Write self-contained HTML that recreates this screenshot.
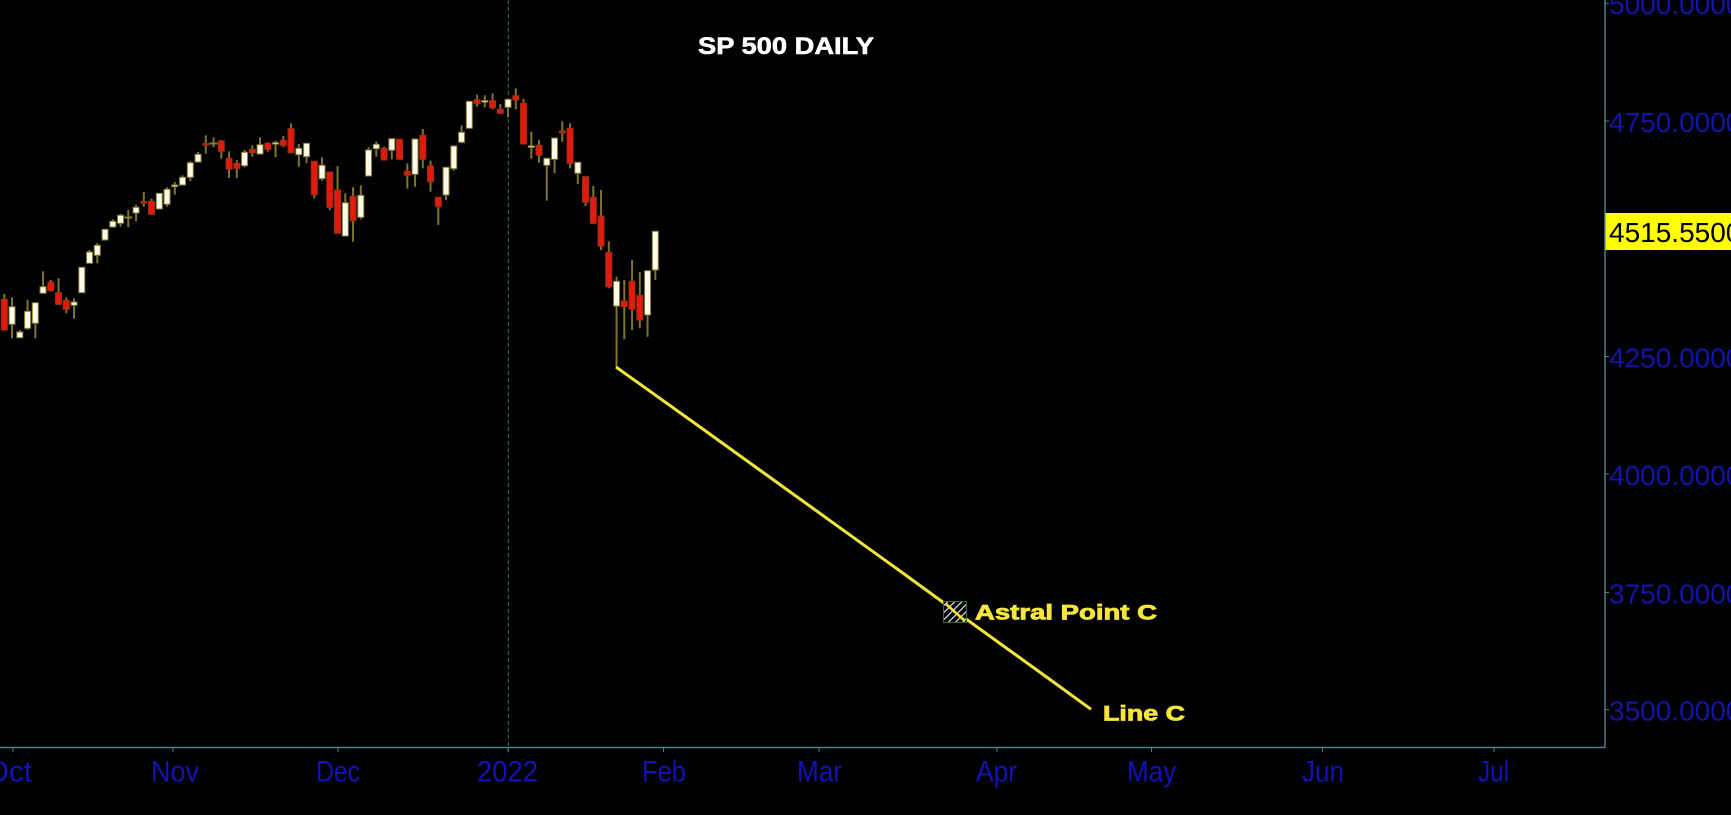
<!DOCTYPE html>
<html><head><meta charset="utf-8"><style>
html,body{margin:0;padding:0;background:#000;}
svg{display:block;}
</style></head><body>
<svg width="1731" height="815" viewBox="0 0 1731 815" xmlns="http://www.w3.org/2000/svg">
<defs>
<pattern id="hat" width="5" height="5" patternUnits="userSpaceOnUse" patternTransform="rotate(45)">
<rect width="5" height="5" fill="#000"/><rect x="0" y="0" width="1.2" height="5" fill="#e8e8e8"/>
</pattern>
</defs>
<rect width="1731" height="815" fill="#000"/>
<line x1="508.3" y1="0" x2="508.3" y2="752" stroke="#3d7272" stroke-width="1" stroke-dasharray="4,3"/>
<line x1="1605" y1="0" x2="1605" y2="747.5" stroke="#4a7f86" stroke-width="1.5"/>
<line x1="0" y1="747.5" x2="1605" y2="747.5" stroke="#4a7f86" stroke-width="1.5"/>
<g stroke="#4a7f86" stroke-width="1">
<line x1="1605" y1="3.4" x2="1609" y2="3.4"/><line x1="1605" y1="121" x2="1609" y2="121"/>
<line x1="1605" y1="356.5" x2="1609" y2="356.5"/><line x1="1605" y1="474" x2="1609" y2="474"/>
<line x1="1605" y1="592.5" x2="1609" y2="592.5"/><line x1="1605" y1="709.5" x2="1609" y2="709.5"/>
<line x1="13" y1="748" x2="13" y2="752"/><line x1="173" y1="748" x2="173" y2="752"/>
<line x1="338" y1="748" x2="338" y2="752"/><line x1="508" y1="748" x2="508" y2="752"/>
<line x1="663.5" y1="748" x2="663.5" y2="752"/><line x1="819" y1="748" x2="819" y2="752"/>
<line x1="997" y1="748" x2="997" y2="752"/><line x1="1151.5" y1="748" x2="1151.5" y2="752"/>
<line x1="1322.5" y1="748" x2="1322.5" y2="752"/><line x1="1494" y1="748" x2="1494" y2="752"/>
</g>
<g font-family="Liberation Sans, sans-serif" font-size="28" fill="#1414a8">
<text x="1609" y="14">5000.0000</text>
<text x="1609" y="132">4750.0000</text>
<text x="1609" y="367.5">4250.0000</text>
<text x="1609" y="485">4000.0000</text>
<text x="1609" y="603.5">3750.0000</text>
<text x="1609" y="720.5">3500.0000</text>
</g>
<rect x="1605.5" y="213" width="126" height="37" fill="#ffff00"/>
<text x="1609" y="242" font-family="Liberation Sans, sans-serif" font-size="28" fill="#000">4515.5500</text>
<g font-family="Liberation Sans, sans-serif" font-size="30" fill="#1212b8">
<text x="-14" y="781.6" textLength="46" lengthAdjust="spacingAndGlyphs">Oct</text>
<text x="151" y="781.6" textLength="48" lengthAdjust="spacingAndGlyphs">Nov</text>
<text x="316" y="781.6" textLength="44" lengthAdjust="spacingAndGlyphs">Dec</text>
<text x="477" y="781.6" textLength="61" lengthAdjust="spacingAndGlyphs">2022</text>
<text x="642" y="781.6" textLength="44" lengthAdjust="spacingAndGlyphs">Feb</text>
<text x="797" y="781.6" textLength="45" lengthAdjust="spacingAndGlyphs">Mar</text>
<text x="976" y="781.6" textLength="41" lengthAdjust="spacingAndGlyphs">Apr</text>
<text x="1127" y="781.6" textLength="49" lengthAdjust="spacingAndGlyphs">May</text>
<text x="1302" y="781.6" textLength="42" lengthAdjust="spacingAndGlyphs">Jun</text>
<text x="1478" y="781.6" textLength="31" lengthAdjust="spacingAndGlyphs">Jul</text>
</g>
<text x="698" y="54" font-family="Liberation Sans, sans-serif" font-weight="bold" font-size="24" fill="#ffffff" stroke="#ffffff" stroke-width="0.6" textLength="176" lengthAdjust="spacingAndGlyphs">SP 500 DAILY</text>
<g fill="#7d7430">
<rect x="3.3" y="294" width="2" height="36.7"/>
<rect x="11.05" y="297.3" width="2" height="41"/>
<rect x="18.8" y="330" width="2" height="8.3"/>
<rect x="26.55" y="300" width="2" height="30"/>
<rect x="34.3" y="302.7" width="2" height="35.6"/>
<rect x="42.05" y="271.3" width="2" height="22"/>
<rect x="49.8" y="280" width="2" height="11.7"/>
<rect x="57.55" y="278" width="2" height="27"/>
<rect x="65.3" y="297.3" width="2" height="16"/>
<rect x="73.05" y="298.3" width="2" height="20.4"/>
<rect x="80.8" y="267.3" width="2" height="25.4"/>
<rect x="88.55" y="250" width="2" height="13.3"/>
<rect x="96.3" y="243.3" width="2" height="20"/>
<rect x="104.05" y="229.3" width="2" height="10.7"/>
<rect x="111.8" y="219.3" width="2" height="7.7"/>
<rect x="119.55" y="214" width="2" height="12.7"/>
<rect x="127.3" y="210" width="2" height="17.3"/>
<rect x="135.05" y="204.7" width="2" height="16.6"/>
<rect x="142.8" y="192" width="2" height="14.7"/>
<rect x="150.55" y="198.7" width="2" height="15.6"/>
<rect x="158.3" y="193.3" width="2" height="15.7"/>
<rect x="166.05" y="187.3" width="2" height="19.4"/>
<rect x="173.8" y="182" width="2" height="12.7"/>
<rect x="181.55" y="175.3" width="2" height="9.7"/>
<rect x="189.3" y="161.3" width="2" height="20"/>
<rect x="197.05" y="152" width="2" height="10"/>
<rect x="204.8" y="135.3" width="2" height="18.4"/>
<rect x="212.55" y="137.3" width="2" height="10"/>
<rect x="220.3" y="140" width="2" height="18.7"/>
<rect x="228.05" y="151.3" width="2" height="26.7"/>
<rect x="235.8" y="160" width="2" height="18"/>
<rect x="243.55" y="150" width="2" height="17.3"/>
<rect x="251.3" y="145.3" width="2" height="11.4"/>
<rect x="259.05" y="137.3" width="2" height="16.7"/>
<rect x="266.8" y="142.3" width="2" height="9.4"/>
<rect x="274.55" y="140.7" width="2" height="16.6"/>
<rect x="282.3" y="136" width="2" height="11.3"/>
<rect x="290.05" y="123.3" width="2" height="30"/>
<rect x="297.8" y="144" width="2" height="22.7"/>
<rect x="305.55" y="143.3" width="2" height="20"/>
<rect x="313.3" y="161.3" width="2" height="37"/>
<rect x="321.05" y="157.3" width="2" height="23.4"/>
<rect x="328.8" y="172" width="2" height="38"/>
<rect x="336.55" y="166" width="2" height="67.3"/>
<rect x="344.3" y="193.3" width="2" height="43.4"/>
<rect x="352.05" y="187.3" width="2" height="54.4"/>
<rect x="359.8" y="185.3" width="2" height="34"/>
<rect x="367.55" y="147.3" width="2" height="28.7"/>
<rect x="375.3" y="141.7" width="2" height="15"/>
<rect x="383.05" y="146.7" width="2" height="13.3"/>
<rect x="390.8" y="138.7" width="2" height="20.6"/>
<rect x="398.55" y="139.3" width="2" height="20"/>
<rect x="406.3" y="163.3" width="2" height="25.4"/>
<rect x="414.05" y="139" width="2" height="47.7"/>
<rect x="421.8" y="129" width="2" height="39.3"/>
<rect x="429.55" y="160.7" width="2" height="31"/>
<rect x="437.3" y="197.3" width="2" height="27.7"/>
<rect x="445.05" y="167.3" width="2" height="32.7"/>
<rect x="452.8" y="145.3" width="2" height="25.4"/>
<rect x="460.55" y="125.3" width="2" height="18"/>
<rect x="468.3" y="101.3" width="2" height="27"/>
<rect x="476.05" y="94.7" width="2" height="12"/>
<rect x="483.8" y="95.3" width="2" height="12"/>
<rect x="491.55" y="93.3" width="2" height="16"/>
<rect x="499.3" y="104" width="2" height="9.3"/>
<rect x="507.05" y="99.3" width="2" height="18"/>
<rect x="514.8" y="88.3" width="2" height="21"/>
<rect x="522.55" y="98.7" width="2" height="45.3"/>
<rect x="530.3" y="131.7" width="2" height="27"/>
<rect x="538.05" y="140" width="2" height="22.7"/>
<rect x="545.8" y="158.3" width="2" height="42.4"/>
<rect x="553.55" y="138" width="2" height="35.3"/>
<rect x="561.3" y="121.3" width="2" height="20.4"/>
<rect x="569.05" y="123.3" width="2" height="45"/>
<rect x="576.8" y="162.3" width="2" height="21.7"/>
<rect x="584.55" y="176.7" width="2" height="29.3"/>
<rect x="592.3" y="186" width="2" height="38"/>
<rect x="600.05" y="190" width="2" height="60"/>
<rect x="607.8" y="241.3" width="2" height="47"/>
<rect x="615.55" y="276.7" width="2" height="90"/>
<rect x="623.3" y="280" width="2" height="59.3"/>
<rect x="631.05" y="260" width="2" height="70"/>
<rect x="638.8" y="272" width="2" height="56.3"/>
<rect x="646.55" y="270.7" width="2" height="66"/>
<rect x="654.3" y="231.3" width="2" height="48.7"/>
</g>
<g fill="#fffbe8" stroke="#857a2e" stroke-width="1">
<rect x="9.05" y="306.7" width="6" height="17.6"/>
<rect x="16.8" y="332" width="6" height="5.7"/>
<rect x="24.55" y="311.3" width="6" height="17"/>
<rect x="32.3" y="302.7" width="6" height="20.6"/>
<rect x="40.05" y="286.7" width="6" height="6.6"/>
<rect x="71.05" y="302" width="6" height="3.3"/>
<rect x="78.8" y="267.3" width="6" height="25.4"/>
<rect x="86.55" y="252" width="6" height="11.3"/>
<rect x="94.3" y="245.3" width="6" height="10"/>
<rect x="102.05" y="229.3" width="6" height="10.7"/>
<rect x="109.8" y="221.3" width="6" height="5.7"/>
<rect x="117.55" y="215.3" width="6" height="8"/>
<rect x="133.05" y="207.3" width="6" height="5.7"/>
<rect x="156.3" y="193.3" width="6" height="15.7"/>
<rect x="164.05" y="189.3" width="6" height="15"/>
<rect x="171.8" y="185" width="6" height="1.7"/>
<rect x="179.55" y="177.3" width="6" height="7.7"/>
<rect x="187.3" y="162.7" width="6" height="14.6"/>
<rect x="195.05" y="154.3" width="6" height="7.7"/>
<rect x="241.55" y="152.3" width="6" height="13.4"/>
<rect x="257.05" y="144.7" width="6" height="9.3"/>
<rect x="272.55" y="142.5" width="6" height="1.6"/>
<rect x="295.8" y="148.3" width="6" height="6.4"/>
<rect x="303.55" y="143.3" width="6" height="13.4"/>
<rect x="319.05" y="165.3" width="6" height="13.4"/>
<rect x="342.3" y="202.7" width="6" height="33.3"/>
<rect x="357.8" y="195.3" width="6" height="22"/>
<rect x="365.55" y="150" width="6" height="26"/>
<rect x="373.3" y="144.3" width="6" height="4.4"/>
<rect x="388.8" y="138.7" width="6" height="11.6"/>
<rect x="412.05" y="139" width="6" height="35.3"/>
<rect x="443.05" y="167.3" width="6" height="27.7"/>
<rect x="450.8" y="146" width="6" height="22.7"/>
<rect x="458.55" y="132.3" width="6" height="10"/>
<rect x="466.3" y="101.3" width="6" height="27"/>
<rect x="481.8" y="100.5" width="6" height="1.6"/>
<rect x="505.05" y="99.3" width="6" height="8"/>
<rect x="528.3" y="145.9" width="6" height="1.6"/>
<rect x="543.8" y="158.3" width="6" height="7"/>
<rect x="551.55" y="138" width="6" height="21.3"/>
<rect x="574.8" y="162.3" width="6" height="11"/>
<rect x="613.55" y="281.3" width="6" height="24.7"/>
<rect x="644.55" y="270.7" width="6" height="44.3"/>
<rect x="652.3" y="231.3" width="6" height="38.7"/>
</g>
<g fill="#e3190e" stroke="#9a3010" stroke-width="1">
<rect x="1.3" y="299.3" width="6" height="30.7"/>
<rect x="47.8" y="282" width="6" height="8.7"/>
<rect x="55.55" y="292.7" width="6" height="11.6"/>
<rect x="63.3" y="300.3" width="6" height="9"/>
<rect x="140.8" y="201.5" width="6" height="1.6"/>
<rect x="148.55" y="201.3" width="6" height="13"/>
<rect x="202.8" y="143.5" width="6" height="1.6"/>
<rect x="218.3" y="141" width="6" height="10.3"/>
<rect x="226.05" y="158.3" width="6" height="11"/>
<rect x="233.8" y="163.3" width="6" height="5"/>
<rect x="249.3" y="149.3" width="6" height="3.4"/>
<rect x="264.8" y="143.3" width="6" height="6"/>
<rect x="280.3" y="140.3" width="6" height="5"/>
<rect x="288.05" y="128.7" width="6" height="24"/>
<rect x="311.3" y="161.3" width="6" height="33.4"/>
<rect x="326.8" y="172" width="6" height="35.3"/>
<rect x="334.55" y="190" width="6" height="43.3"/>
<rect x="350.05" y="196.3" width="6" height="24.4"/>
<rect x="381.05" y="148.3" width="6" height="11.7"/>
<rect x="396.55" y="139.3" width="6" height="20"/>
<rect x="404.3" y="171.3" width="6" height="4"/>
<rect x="419.8" y="135.3" width="6" height="24"/>
<rect x="427.55" y="166" width="6" height="15.7"/>
<rect x="435.3" y="197.3" width="6" height="9.4"/>
<rect x="474.05" y="99.7" width="6" height="4"/>
<rect x="489.55" y="100.7" width="6" height="7"/>
<rect x="497.3" y="109.3" width="6" height="4"/>
<rect x="512.8" y="95.7" width="6" height="4.3"/>
<rect x="520.55" y="103.3" width="6" height="40.7"/>
<rect x="536.05" y="145.3" width="6" height="10"/>
<rect x="559.3" y="131" width="6" height="1.7"/>
<rect x="567.05" y="128.3" width="6" height="35"/>
<rect x="582.55" y="176.7" width="6" height="25.6"/>
<rect x="590.3" y="197.3" width="6" height="26"/>
<rect x="598.05" y="216" width="6" height="30"/>
<rect x="605.8" y="252.3" width="6" height="34.4"/>
<rect x="621.3" y="301" width="6" height="5.7"/>
<rect x="629.05" y="281.3" width="6" height="28"/>
<rect x="636.8" y="295.3" width="6" height="24.7"/>
</g>
<g fill="#8a7d30">
<rect x="124.3" y="216.5" width="8" height="2"/>
<rect x="209.55" y="142.5" width="8" height="2"/>
</g>
<polyline points="616,367 700,427 800,499 900,571 955,611 1000,643.5 1050,679.5 1091,709.3" fill="none" stroke="#f2e53a" stroke-width="3"/>
<rect x="943.5" y="601.5" width="23" height="21" fill="url(#hat)" stroke="#2c6e2c" stroke-width="1"/>
<line x1="946" y1="604" x2="965" y2="621" stroke="#f2e53a" stroke-width="2.6"/>
<text x="975" y="619.3" font-family="Liberation Sans, sans-serif" font-weight="bold" font-size="21.5" fill="#f4e63a" stroke="#f4e63a" stroke-width="0.8" textLength="182" lengthAdjust="spacingAndGlyphs">Astral Point C</text>
<text x="1103" y="720.7" font-family="Liberation Sans, sans-serif" font-weight="bold" font-size="21.5" fill="#f4e63a" stroke="#f4e63a" stroke-width="0.8" textLength="82" lengthAdjust="spacingAndGlyphs">Line C</text>
</svg>
</body></html>
